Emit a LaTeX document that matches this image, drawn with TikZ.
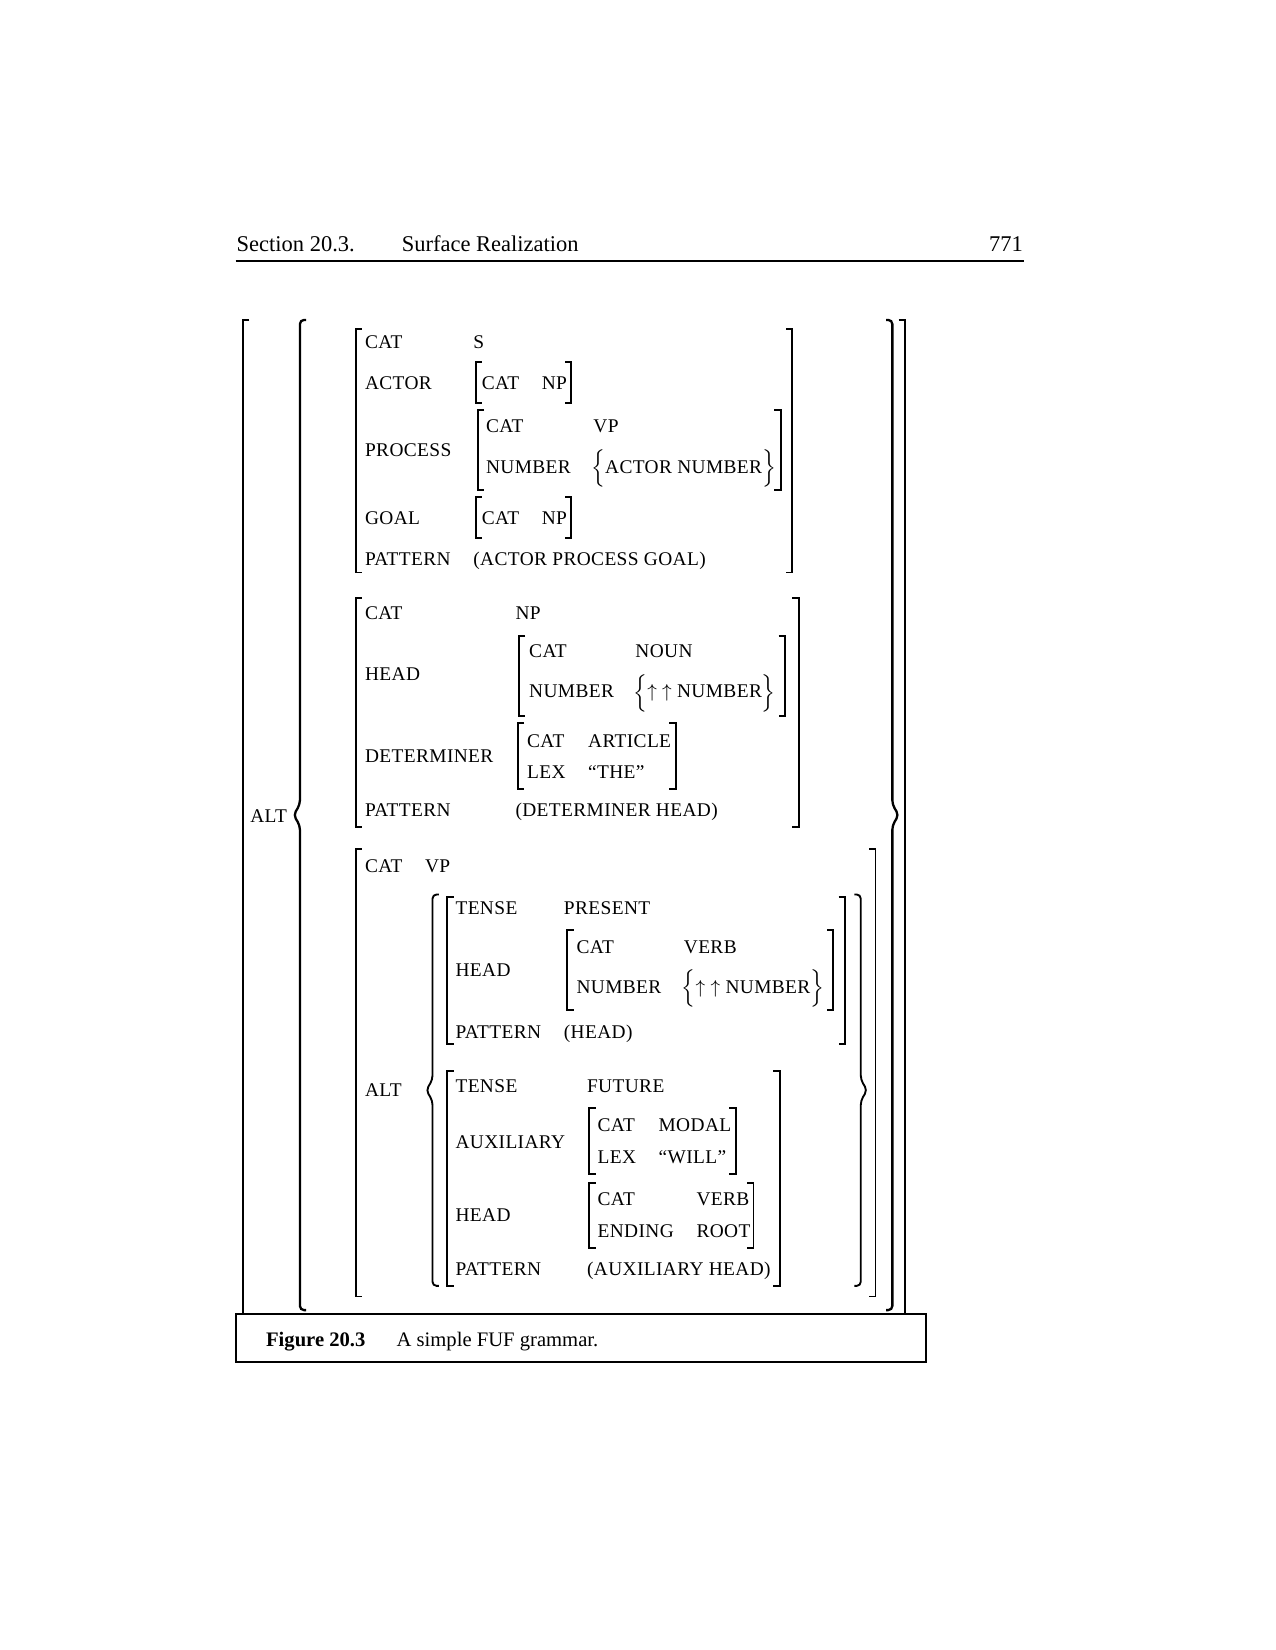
\documentclass[tikz,border=0pt]{standalone}
\usepackage{fontspec}
\setmainfont{Liberation Serif}
\newcommand\avm{\fontsize{9.3}{11}\selectfont\addfontfeature{LetterSpace=2}}
\newcommand\hdr{\fontsize{10.8}{13}\selectfont}
\newcommand\capf{\fontsize{9.9}{12}\selectfont}
\newcommand\lset{$\smash{\Big\{}$}
\newcommand\rset{$\smash{\Big\}}$}
\begin{document}
\begin{tikzpicture}[x=0.505pt,y=-0.505pt,line width=0.9pt]
        \tikzset{
            brk/.style args={#1:#2}{
              insert path={+(#2,0) -- +(0,0) -- +(0,#1) -- +(#2,#1)}
            },
            brc/.style args={#1:#2}{
              insert path={[rounded corners=2pt] +(#2,0) -- +(0,0) -- +(0,#1/2-10)
                -- +({-1*(#2)},#1/2) -- +(0,#1/2+10) -- +(0,#1) -- +(#2,#1)}
            },
            feat/.style={anchor=base west, inner sep=0pt, font=\avm}
          }
        \useasboundingbox (0,0) rectangle (1212,1568);

        \node[anchor=base west, inner sep=0pt, font=\hdr] (sec) at (224,239) {Section 20.3.};
        \node[anchor=base west, inner sep=0pt, font=\hdr] (title) at (381,239) {Surface Realization};
        \node[anchor=base east, inner sep=0pt, font=\hdr] (page) at (973,239) {771};
        \draw[line width=1pt] (224,248) -- (973,248);

        \draw[line width=1.1pt] (231,304) [brk=945:6];
        \draw[line width=1.1pt] (860,304) [brk=945:-6];
        \draw[line width=1.1pt] (285,304) [brc=941:6];
        \draw[line width=1.1pt] (848,304) [brc=941:-6];
        \node[feat] (alt) at (237,782) {ALT};

        \draw (338,313) [brk=231:6];
        \draw (753,313) [brk=231:-6];
        \node[feat] (s-cat) at (346,331) {CAT};
        \node[feat] (s-cat-v) at (449,331) {S};
        \node[feat] (s-act) at (346,370) {ACTOR};
        \draw (452,344) [brk=39:6];
        \draw (543,344) [brk=39:-6];
        \node[feat] (s-act-cat) at (457,370) {CAT};
        \node[feat] (s-act-np) at (514,370) {NP};
        \node[feat] (s-pro) at (346,434) {PROCESS};
        \draw (454,390) [brk=76:6];
        \draw (742,390) [brk=76:-6];
        \node[feat] (s-pro-cat) at (461,411) {CAT};
        \node[feat] (s-pro-vp) at (563,411) {VP};
        \node[feat] (s-pro-num) at (461,450) {NUMBER};
        \node[feat] (s-pro-path) at (561,450) {\lset ACTOR NUMBER\rset};
        \node[feat] (s-goal) at (346,498) {GOAL};
        \draw (452,472) [brk=39:6];
        \draw (543,472) [brk=39:-6];
        \node[feat] (s-goal-cat) at (457,498) {CAT};
        \node[feat] (s-goal-np) at (514,498) {NP};
        \node[feat] (s-pat) at (346,537) {PATTERN};
        \node[feat] (s-pat-v) at (449,537) {(ACTOR PROCESS GOAL)};

        \draw (338,568) [brk=218:6];
        \draw (759,568) [brk=218:-6];
        \node[feat] (np-cat) at (346,589) {CAT};
        \node[feat] (np-cat-v) at (489,589) {NP};
        \node[feat] (np-head) at (346,647) {HEAD};
        \draw (493,604) [brk=76:6];
        \draw (746,604) [brk=76:-6];
        \node[feat] (np-head-cat) at (502,625) {CAT};
        \node[feat] (np-head-noun) at (603,625) {NOUN};
        \node[feat] (np-head-num) at (502,663) {NUMBER};
        \node[feat] (np-head-path) at (601,663) {\lset$\uparrow\;\uparrow$ NUMBER\rset};
        \node[feat] (np-det) at (346,725) {DETERMINER};
        \draw (492,687) [brk=63:6];
        \draw (642,687) [brk=63:-6];
        \node[feat] (np-det-cat) at (500,710) {CAT};
        \node[feat] (np-det-art) at (558,710) {ARTICLE};
        \node[feat] (np-det-lex) at (500,740) {LEX};
        \node[feat] (np-det-the) at (558,740) {“THE”};
        \node[feat] (np-pat) at (346,776) {PATTERN};
        \node[feat] (np-pat-v) at (489,776) {(DETERMINER HEAD)};

        \draw (338,807) [brk=425:6];
        \draw (832,807) [brk=425:-6];
        \node[feat] (vp-cat) at (346,829) {CAT};
        \node[feat] (vp-cat-v) at (403,829) {VP};
        \node[feat] (vp-alt) at (346,1042) {ALT};
        \draw (411,850) [brc=372:6];
        \draw (818,850) [brc=372:-6];

        \draw (425,852) [brk=140:6];
        \draw (803,852) [brk=140:-6];
        \node[feat] (pr-tense) at (432,869) {TENSE};
        \node[feat] (pr-tense-v) at (535,869) {PRESENT};
        \node[feat] (pr-head) at (432,928) {HEAD};
        \draw (539,884) [brk=76:6];
        \draw (792,884) [brk=76:-6];
        \node[feat] (pr-head-cat) at (547,906) {CAT};
        \node[feat] (pr-head-verb) at (649,906) {VERB};
        \node[feat] (pr-head-num) at (547,944) {NUMBER};
        \node[feat] (pr-head-path) at (647,944) {\lset$\uparrow\;\uparrow$ NUMBER\rset};
        \node[feat] (pr-pat) at (432,987) {PATTERN};
        \node[feat] (pr-pat-v) at (535,987) {(HEAD)};

        \draw (425,1018) [brk=204:6];
        \draw (741,1018) [brk=204:-6];
        \node[feat] (fu-tense) at (432,1038) {TENSE};
        \node[feat] (fu-tense-v) at (557,1038) {FUTURE};
        \node[feat] (fu-aux) at (432,1091) {AUXILIARY};
        \draw (560,1053) [brk=63:6];
        \draw (699,1053) [brk=63:-6];
        \node[feat] (fu-aux-cat) at (567,1075) {CAT};
        \node[feat] (fu-aux-modal) at (625,1075) {MODAL};
        \node[feat] (fu-aux-lex) at (567,1106) {LEX};
        \node[feat] (fu-aux-will) at (625,1106) {“WILL”};
        \node[feat] (fu-head) at (432,1161) {HEAD};
        \draw (560,1124) [brk=62:6];
        \draw (716,1124) [brk=62:-6];
        \node[feat] (fu-head-cat) at (567,1146) {CAT};
        \node[feat] (fu-head-verb) at (661,1146) {VERB};
        \node[feat] (fu-head-end) at (567,1176) {ENDING};
        \node[feat] (fu-head-root) at (661,1176) {ROOT};
        \node[feat] (fu-pat) at (432,1212) {PATTERN};
        \node[feat] (fu-pat-v) at (557,1212) {(AUXILIARY HEAD)};

        \draw[line width=1pt] (224,1249) rectangle (880,1294);
        \node[anchor=base west, inner sep=0pt, font=\capf\bfseries] (fig) at (252,1280) {Figure 20.3};
        \node[anchor=base west, inner sep=0pt, font=\capf] (cap) at (376,1280) {A simple FUF grammar.};
    \end{tikzpicture}
\end{document}
